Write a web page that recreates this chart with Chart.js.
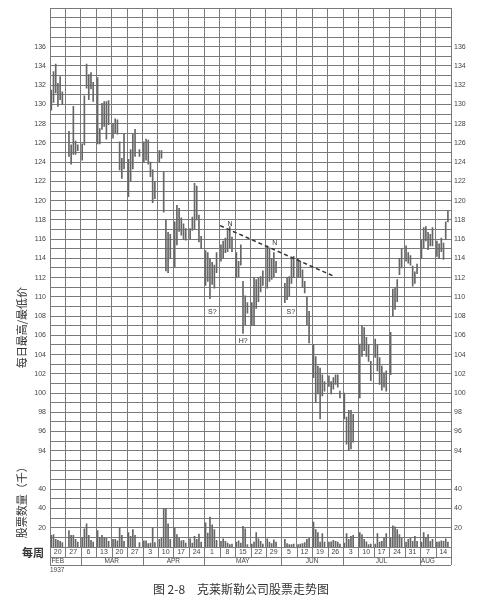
<!DOCTYPE html>
<html><head><meta charset="utf-8">
<script src="https://cdn.jsdelivr.net/npm/chart.js@4"></script>
<style>html,body{margin:0;padding:0;background:#fff;}#wrap{width:487px;height:601px;position:relative;}</style>
</head><body><div id="wrap"><canvas id="c" width="487" height="601"></canvas></div>
<script>
// ---- data (Mon..Sat per week, null = no trading) ----
const weekLabels = ['20','27','6','13','20','27','3','10','17','24','1','8','15','22','29','5','12','19','26','3','10','17','24','31','7','14'];
const monthNames = ['FEB','MAR','APR','MAY','JUN','JUL','AUG'];
const monthWeeks = [2,4,4,5,4,5,2];
const yearLabel = '1937';

const lows = [
129.4,130.2,131.2,129.8,130.5,130.0,
null,124.6,123.8,124.8,124.8,125.2,
124.2,125.8,131.7,130.5,131.6,130.3,
125.9,125.9,127.4,127.7,126.4,127.9,
126.5,127.0,126.9,123.2,122.3,123.3,
120.4,122.0,123.3,124.6,null,124.6,
124.0,124.2,123.8,122.5,119.8,120.2,
124.0,124.4,118.8,112.7,112.5,114.0,
113.1,115.4,116.8,116.4,116.0,115.9,
116.0,116.9,117.0,118.0,115.7,115.0,
111.2,111.6,109.8,111.3,110.9,112.5,
113.7,114.0,114.6,114.7,115.1,114.7,
112.0,112.1,113.3,106.2,107.1,108.3,
107.0,107.0,108.8,109.5,110.5,111.2,
110.9,111.6,111.8,112.1,112.5,null,
null,109.4,109.7,110.1,111.4,112.0,
112.0,112.1,111.0,110.4,107.1,105.2,
101.6,99.0,99.9,97.3,99.7,100.2,
100.7,99.9,100.4,100.9,100.6,99.5,
97.3,94.7,94.0,94.2,94.9,null,
99.5,103.8,104.4,103.8,103.3,101.3,
103.7,102.3,100.9,100.3,100.6,100.2,
101.9,108.0,108.7,109.5,112.3,113.0,
113.7,113.5,113.3,111.1,111.4,112.4,
114.0,115.1,115.8,114.9,115.3,115.3,
114.2,114.0,114.7,113.9,116.0,117.8];

const highs = [
131.5,133.4,134.2,132.2,132.9,131.3,
null,127.2,125.8,129.8,126.2,125.8,
125.9,130.9,134.2,133.1,133.3,132.3,
132.8,127.5,130.1,130.3,130.3,130.4,
128.0,128.5,128.4,126.1,124.4,127.0,
124.3,125.3,126.9,127.4,null,125.3,
126.1,126.4,126.3,124.0,123.2,122.0,
125.2,125.2,123.0,118.0,116.7,116.5,
117.8,119.5,119.2,118.2,117.6,117.1,
117.1,118.3,121.8,121.5,118.5,116.3,
114.8,114.6,114.0,113.6,113.3,114.6,
115.4,115.8,116.1,116.9,117.3,116.2,
114.6,113.7,115.4,111.6,110.1,109.4,
109.4,112.0,111.8,112.0,112.1,112.7,
115.3,115.1,114.0,114.6,113.7,null,
null,111.4,112.0,112.1,114.0,114.2,
114.0,113.7,112.8,111.6,110.0,108.5,
105.0,103.8,102.8,102.6,101.9,101.2,
101.8,101.2,101.6,101.9,101.9,100.2,
100.0,97.5,98.2,98.2,97.8,null,
105.1,107.0,106.8,105.8,105.0,103.3,
105.6,105.0,103.7,102.8,102.1,102.3,
106.3,110.8,110.9,111.8,114.0,115.0,
115.3,114.6,114.3,113.2,112.6,113.4,
115.9,117.2,117.3,116.7,116.5,117.2,
115.8,115.5,116.1,115.6,117.8,118.9];

const volumes = [
12,13,8,7,6,4.5,
null,17,12,12,8,5,
10,19,24,12,7,5,
17,10,12,10,9,6,
8,8,6.5,20,12,6,
15,11,18,12,null,4.5,
6.5,6.5,3.5,4,20,4.5,
8,9,40,40,24,8,
20,13,9,6.5,7,4,
8.5,4,11,8,13.5,5,
25,14.5,31,23,18,7,
6,8.5,6,4,2.5,3,
5,6.5,4,21.5,19,2.5,
3,5,15,8.5,6,3,
8.5,5,3.5,7.5,5,null,
null,8,3.5,2.5,2.5,3,
2.5,3,3.5,4.5,8,9,
26,18,15,5,14,5,
5,5.5,7,6,5,3,
4,14,8,11,12,null,
15,13,8,5.5,2.5,3,
3,14,5,6,9,14,
9,22,21,18,13,9,
5,8,9,6,11,6,
5,15,9,13,6,8,
5,5.5,6.5,6,8.5,5];

const priceTickMin = 94, priceTickMax = 136, priceTickStep = 2;
const volTickValues = [20, 40, 60];
const volTickText = ['20', '40', '40'];
const trendX = [77.2, 129.2];
const trendY = [117.4, 112.1];
const noteText = ['N', 'N', 'S?', 'S?', 'H?'];
const noteX = [81.7, 102.0, 73.7, 109.3, 87.7];
const noteY = [117.6, 115.6, 108.4, 108.4, 105.4];

// ---- build ----
const DAYS = 7, TRADE = 6;
const priceMin = 84, priceMax = 140, volPerPoint = 10;
const priceData = [], volData = [];
for (let i = 0; i < highs.length; i++) {
  const w = Math.floor(i / TRADE), k = i % TRADE;
  const xv = w * DAYS + k + 0.6;
  if (highs[i] != null) priceData.push({x: xv, y: [lows[i], highs[i]]});
  if (volumes[i] != null) volData.push({x: xv, y: volumes[i]});
}
const trendData = trendX.map((v, i) => ({x: v, y: trendY[i]}));

const gridColor = '#7a7a7a';
const textColor = '#444';
const barColor = '#666666';

function tickText(v) {
  if (v >= priceTickMin && v <= priceTickMax && (v - priceTickMin) % priceTickStep === 0) return String(v);
  for (let j = 0; j < volTickValues.length; j++) {
    if (Math.abs(priceMin + volTickValues[j] / volPerPoint - v) < 1e-6) return volTickText[j];
  }
  return '';
}

const decor = {
  id: 'decor',
  afterDraw(chart) {
    const {ctx, chartArea: a} = chart;
    const x = chart.scales.x, y = chart.scales.y;
    ctx.save();
    ctx.strokeStyle = gridColor; ctx.lineWidth = 1;
    const r0 = a.bottom, r1 = a.bottom + 10, r2 = a.bottom + 18;
    const ln = (x1, y1, x2, y2) => { ctx.beginPath(); ctx.moveTo(x1, y1); ctx.lineTo(x2, y2); ctx.stroke(); };
    const px = v => Math.round(x.getPixelForValue(v)) + 0.5;
    for (let w = 0; w <= weekLabels.length; w++) ln(px(w * DAYS), r0, px(w * DAYS), r1);
    ln(a.left, r1 + 0.5, a.right, r1 + 0.5);
    ln(a.left, r2 + 0.5, a.right, r2 + 0.5);
    let acc = 0;
    ln(px(0), r1, px(0), r2);
    ctx.fillStyle = textColor; ctx.textAlign = 'center'; ctx.textBaseline = 'middle';
    ctx.font = '6.5px "Liberation Sans", Arial, sans-serif';
    monthNames.forEach((m, i) => {
      const s = acc, e = acc + monthWeeks[i];
      ln(px(e * DAYS), r1, px(e * DAYS), r2);
      const c = monthWeeks[i] > 2 ? (s + e) / 2 : s + 0.5;
      ctx.fillText(m, x.getPixelForValue(c * DAYS), (r1 + r2) / 2 + 0.5);
      acc = e;
    });
    ctx.font = '7px "Liberation Sans", Arial, sans-serif';
    weekLabels.forEach((t, w) => ctx.fillText(t, x.getPixelForValue((w + 0.5) * DAYS), (r0 + r1) / 2 + 0.5));
    ctx.textAlign = 'left';
    ctx.font = '6.5px "Liberation Sans", Arial, sans-serif';
    ctx.fillText(yearLabel, a.left, r2 + 5);
    // notes
    ctx.textAlign = 'center';
    ctx.font = '7px "Liberation Sans", Arial, sans-serif';
    ctx.fillStyle = '#333';
    noteText.forEach((t, i) => ctx.fillText(t, x.getPixelForValue(noteX[i]), y.getPixelForValue(noteY[i])));
    // titles
    ctx.fillStyle = '#333';
    ctx.font = 'bold 11px "Noto Sans CJK SC", sans-serif';
    ctx.textAlign = 'right';
    ctx.fillText('每周', a.left - 6, (r0 + r1) / 2 + 1);
    ctx.font = '11px "Noto Sans CJK SC", sans-serif';
    ctx.textAlign = 'center';
    const vt = (txt, cy) => { ctx.save(); ctx.translate(22, cy); ctx.rotate(-Math.PI / 2); ctx.fillText(txt, 0, 0); ctx.restore(); };
    vt('每日最高/最低价', y.getPixelForValue(106.8));
    vt('股票数量（千）', y.getPixelForValue(88.9));
    ctx.font = '12px "Noto Sans CJK SC", sans-serif';
    ctx.fillStyle = '#333';
    ctx.fillText('图 2-8　克莱斯勒公司股票走势图', 241, 589);
    ctx.restore();
  }
};

new Chart(document.getElementById('c'), {
  type: 'bar',
  data: {
    datasets: [
      {label: 'price', data: priceData, yAxisID: 'y', backgroundColor: barColor, barThickness: 1, grouped: false, order: 2},
      {label: 'volume', data: volData, yAxisID: 'yv', backgroundColor: barColor, barThickness: 1, grouped: false, order: 3},
      {label: 'trend', type: 'line', data: trendData, yAxisID: 'y', borderColor: '#333', borderWidth: 1.5, borderDash: [4, 3], pointRadius: 0, fill: false, order: 1}
    ]
  },
  options: {
    responsive: false, animation: false,
    layout: {padding: {top: 6, left: 0, right: 0, bottom: 0}},
    plugins: {legend: {display: false}, tooltip: {enabled: false}},
    scales: {
      x: {type: 'linear', min: 0, max: weekLabels.length * DAYS, offset: false,
          ticks: {stepSize: DAYS, display: false}, grid: {color: gridColor, offset: false, drawTicks: false},
          border: {color: gridColor},
          afterFit(s) { s.height = 54; }},
      y: {type: 'linear', position: 'left', min: priceMin, max: priceMax,
          ticks: {stepSize: 1, autoSkip: false, padding: 4, color: textColor, font: {size: 7, family: '"Liberation Sans", Arial, sans-serif'}, callback: v => tickText(v)},
          grid: {color: gridColor, drawTicks: false}, border: {color: gridColor},
          afterFit(s) { s.width = 50; }},
      y2: {type: 'linear', position: 'right', min: priceMin, max: priceMax,
          ticks: {stepSize: 1, autoSkip: false, padding: 3, color: textColor, font: {size: 7, family: '"Liberation Sans", Arial, sans-serif'}, callback: v => tickText(v)},
          grid: {display: false, drawTicks: false}, border: {color: gridColor},
          afterFit(s) { s.width = 36; }},
      yv: {type: 'linear', display: false, min: 0, max: (priceMax - priceMin) * volPerPoint}
    }
  },
  plugins: [decor]
});
</script></body></html>
